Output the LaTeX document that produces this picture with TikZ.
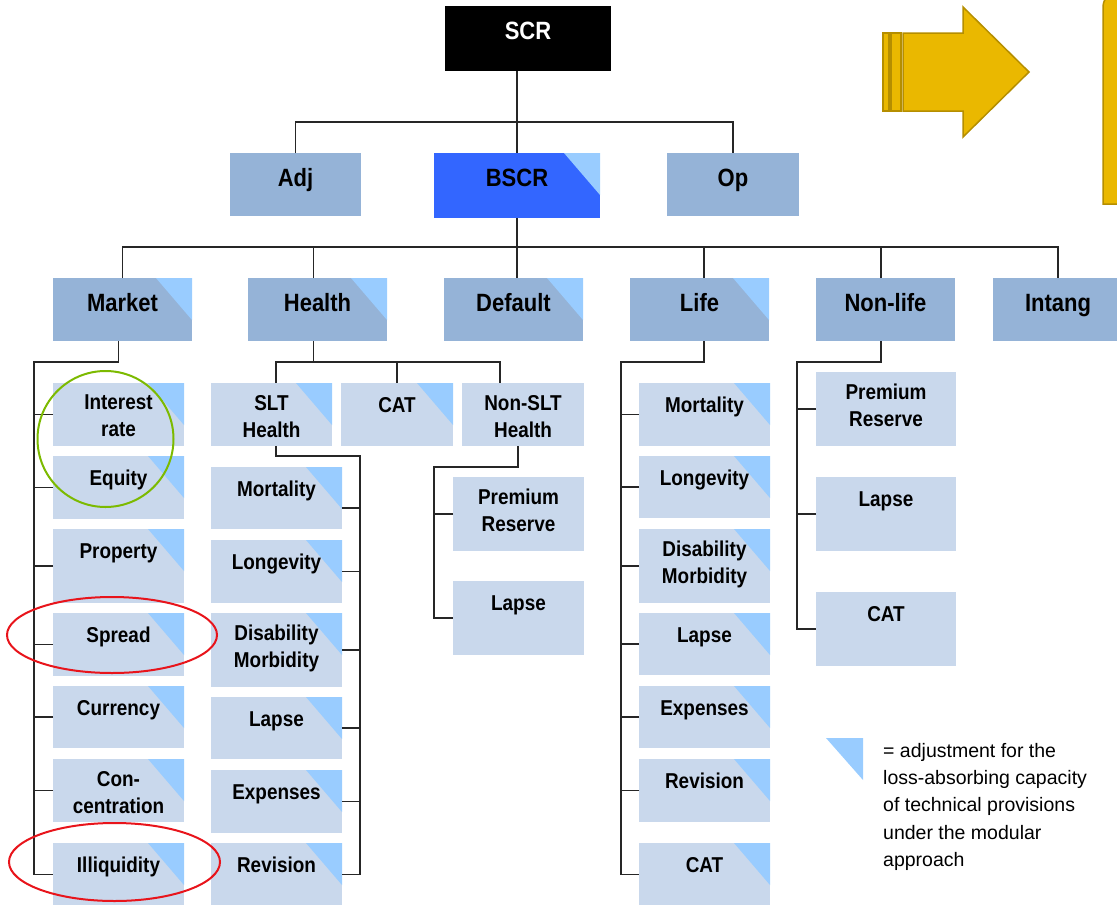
\documentclass[tikz,border=0pt]{standalone}
\usepackage{fontspec}
\setmainfont{Liberation Sans}
\newfontfamily\boxfont[FakeStretch=0.88]{Liberation Sans}
\definecolor{hdrblue}{HTML}{95B3D7}
\definecolor{subblue}{HTML}{C9D8EC}
\definecolor{triblue}{HTML}{99CCFF}
\definecolor{bscrblue}{HTML}{3366FF}
\definecolor{linegray}{HTML}{262626}
\definecolor{goldfill}{HTML}{EAB800}
\definecolor{golddraw}{HTML}{B58E00}
\definecolor{ringgreen}{HTML}{7CBA00}
\definecolor{ringred}{HTML}{E8141B}

% box frame, corner mark and label
\newcommand{\bxframe}[6]{%
  \node[#2 box, anchor=north west, inner sep=0pt, outer sep=0pt,
        minimum width={(#5-#3)*1pt}, minimum height={(#6-#4)*1pt}] (#1) at (#3,#4) {};}
\newcommand{\bxcorner}[1]{\fill[tri] (#1.north east) -- ++(-36,0) -- ++(36,42) -- cycle;}
\newcommand{\bxtext}[3]{\node[#2 text] (#1-t) at (#1.north) {#3};}
\newcommand{\bx}[7]{\bxframe{#1}{#2}{#3}{#4}{#5}{#6}\bxtext{#1}{#2}{#7}}
\newcommand{\bxt}[7]{\bxframe{#1}{#2}{#3}{#4}{#5}{#6}\bxcorner{#1}\bxtext{#1}{#2}{#7}}

\begin{document}
\begin{tikzpicture}[x=1pt,y=-1pt,
  link/.style={draw=linegray, line width=1.6pt},
  tri/.style={fill=triblue},
  scr box/.style={fill=black},
  hdr box/.style={fill=hdrblue},
  bscr box/.style={fill=bscrblue},
  sub box/.style={fill=subblue},
  big label/.style={font=\boxfont\bfseries\fontsize{25}{30}\selectfont,
    inner sep=0pt, outer sep=0pt, align=center, anchor=north, yshift=-13pt,
    execute at begin node={\rule{0pt}{20pt}}},
  scr text/.style={big label, text=white},
  hdr text/.style={big label},
  bscr text/.style={big label},
  sub text/.style={font=\boxfont\bfseries\fontsize{21.5}{27}\selectfont,
    inner sep=0pt, outer sep=0pt, align=center, anchor=north, yshift=-12pt,
    execute at begin node={\rule{0pt}{17pt}}},
  gold/.style={fill=goldfill, draw=golddraw, line width=1.5pt},
  ring/.style={line width=2pt},
]
\useasboundingbox (0,0) rectangle (1117,905);
\clip (0,0) rectangle (1117,905);

% ---- top levels
\bx{scr}{scr}{445}{6}{611}{71}{SCR}
\bx{adj}{hdr}{230}{153}{361}{216}{Adj}
\bxt{bscr}{bscr}{434}{153}{600}{218}{BSCR}
\bx{op}{hdr}{667}{153}{799}{216}{Op}

\bxt{market}{hdr}{53}{278}{192}{341}{Market}
\bxt{health}{hdr}{248}{278}{387}{341}{Health}
\bxt{default}{hdr}{444}{278}{583}{341}{Default}
\bxt{life}{hdr}{630}{278}{769}{341}{Life}
\bx{nonlife}{hdr}{816}{278}{955}{341}{Non-life}
\bx{intang}{hdr}{993}{278}{1123}{341}{Intang}

% ---- market modules
\bxt{ir}{sub}{53}{383}{184}{446}{Interest\\rate}
\bxt{eq}{sub}{53}{456}{184}{519}{Equity}
\bxt{prop}{sub}{53}{529}{184}{603}{Property}
\bxt{spread}{sub}{53}{613}{184}{676}{Spread}
\bxt{curr}{sub}{53}{686}{184}{748}{Currency}
\bxt{conc}{sub}{53}{759}{184}{822}{Con-\\centration}
\bxt{illiq}{sub}{53}{843}{184}{906}{Illiquidity}

% ---- health modules
\bxt{slt}{sub}{211}{383}{332}{446}{SLT\\Health}
\bxt{hcat}{sub}{341}{383}{453}{446}{CAT}
\bx{nslt}{sub}{462}{383}{584}{446}{Non-SLT\\Health}

\bxt{hmort}{sub}{211}{467}{342}{529}{Mortality}
\bxt{hlong}{sub}{211}{540}{342}{603}{Longevity}
\bxt{hdis}{sub}{211}{613}{342}{687}{Disability\\Morbidity}
\bxt{hlapse}{sub}{211}{697}{342}{759}{Lapse}
\bxt{hexp}{sub}{211}{770}{342}{833}{Expenses}
\bxt{hrev}{sub}{211}{843}{342}{906}{Revision}

\bx{nprem}{sub}{453}{477}{584}{551}{Premium\\Reserve}
\bx{nlapse}{sub}{453}{581}{584}{655}{Lapse}

% ---- life modules
\bxt{lmort}{sub}{639}{383}{770}{446}{Mortality}
\bxt{llong}{sub}{639}{456}{770}{518}{Longevity}
\bxt{ldis}{sub}{639}{529}{770}{603}{Disability\\Morbidity}
\bxt{llapse}{sub}{639}{613}{770}{675}{Lapse}
\bxt{lexp}{sub}{639}{686}{770}{748}{Expenses}
\bxt{lrev}{sub}{639}{759}{770}{822}{Revision}
\bxt{lcat}{sub}{639}{843}{770}{906}{CAT}

% ---- non-life modules
\bx{nlprem}{sub}{816}{372}{956}{446}{Premium\\Reserve}
\bx{nllapse}{sub}{816}{477}{956}{551}{Lapse}
\bx{nlcat}{sub}{816}{592}{956}{666}{CAT}

% ---- bus lines
\coordinate (bus1) at (0,122);
\coordinate (bus2) at (0,247);
\coordinate (hbus) at (0,362);
\coordinate (mbus) at (34,362);
\coordinate (sbus) at (360,456);
\coordinate (nbus) at (434,467);
\coordinate (lbus) at (621,362);
\coordinate (nlbus) at (797,362);

% SCR level
\draw[link] (bscr.north |- scr.south) -- (bscr.north);
\draw[link] (adj.north) |- (op.north |- bus1) -- (op.north);

% BSCR level
\draw[link] (bscr.south) -- (bscr.south |- default.north);
\draw[link] (market.north) |- (intang.north |- bus2) -- (intang.north);
\draw[link] ([xshift=-4pt]health.north) -- ([xshift=-4pt]health.north |- bus2);
\draw[link] ([xshift=4.5pt]life.north) -- ([xshift=4.5pt]life.north |- bus2);
\draw[link] ([xshift=-4.5pt]nonlife.north) -- ([xshift=-4.5pt]nonlife.north |- bus2);

% market
\draw[link] ([xshift=-4pt]market.south) |- (mbus) |- (illiq.west);
\foreach \m in {ir,eq,prop,spread,curr,conc}
  \draw[link] (\m.west) -- (\m.west -| mbus);

% health
\draw[link] ([xshift=-4pt]health.south) -- ([xshift=-4pt]health.south |- hbus);
\draw[link] ([xshift=4.5pt]slt.north) |- ([xshift=-23pt]nslt.north |- hbus) -- ([xshift=-23pt]nslt.north);
\draw[link] (hcat.north) -- (hcat.north |- hbus);
\draw[link] ([xshift=4.5pt]slt.south) |- (sbus) |- (hrev.east);
\draw[link] ([yshift=-10pt]hmort.east) -- ([yshift=-10pt]hmort.east -| sbus);
\foreach \m in {hlong,hdis,hlapse,hexp}
  \draw[link] (\m.east) -- (\m.east -| sbus);
\draw[link] ([xshift=-5pt]nslt.south) |- (nbus) |- (nlapse.west);
\draw[link] (nprem.west) -- (nprem.west -| nbus);

% life
\draw[link] ([xshift=4.5pt]life.south) |- (lbus) |- (lcat.west);
\foreach \m in {lmort,llong,ldis,llapse,lexp,lrev}
  \draw[link] (\m.west) -- (\m.west -| lbus);

% non-life
\draw[link] ([xshift=-4.5pt]nonlife.south) |- (nlbus) |- (nlcat.west);
\foreach \m in {nlprem,nllapse}
  \draw[link] (\m.west) -- (\m.west -| nlbus);

% ---- highlight rings
\draw[ring, draw=ringgreen] (105.5,439) circle [radius=68pt];
\draw[ring, draw=ringred] (112,635) ellipse [x radius=105pt, y radius=38pt];
\draw[ring, draw=ringred] (114.5,862) ellipse [x radius=105.5pt, y radius=39pt];

% ---- arrow and panel edge
\filldraw[gold] (883,33) rectangle (889,111);
\filldraw[gold] (891,33) rectangle (901,111);
\filldraw[gold] (903,33) -- (963,33) -- (963,7) -- (1029,72) -- (963,137)
  -- (963,111) -- (903,111) -- cycle;
\filldraw[gold] (1140,204) -- (1103,204) -- (1103,20) [rounded corners=15pt]
  -- (1103,-8) -- (1140,-8);

% ---- legend
\fill[tri] (826,738) -- (863,738) -- (863,780) -- cycle;
\node[anchor=north west, inner sep=0pt, align=left,
  font=\fontsize{19.5}{27.3}\selectfont] (legend) at (883,741)
  {\rule{0pt}{16pt}= adjustment for the\\loss-absorbing capacity\\of technical provisions\\under the modular\\approach};
\end{tikzpicture}
\end{document}
